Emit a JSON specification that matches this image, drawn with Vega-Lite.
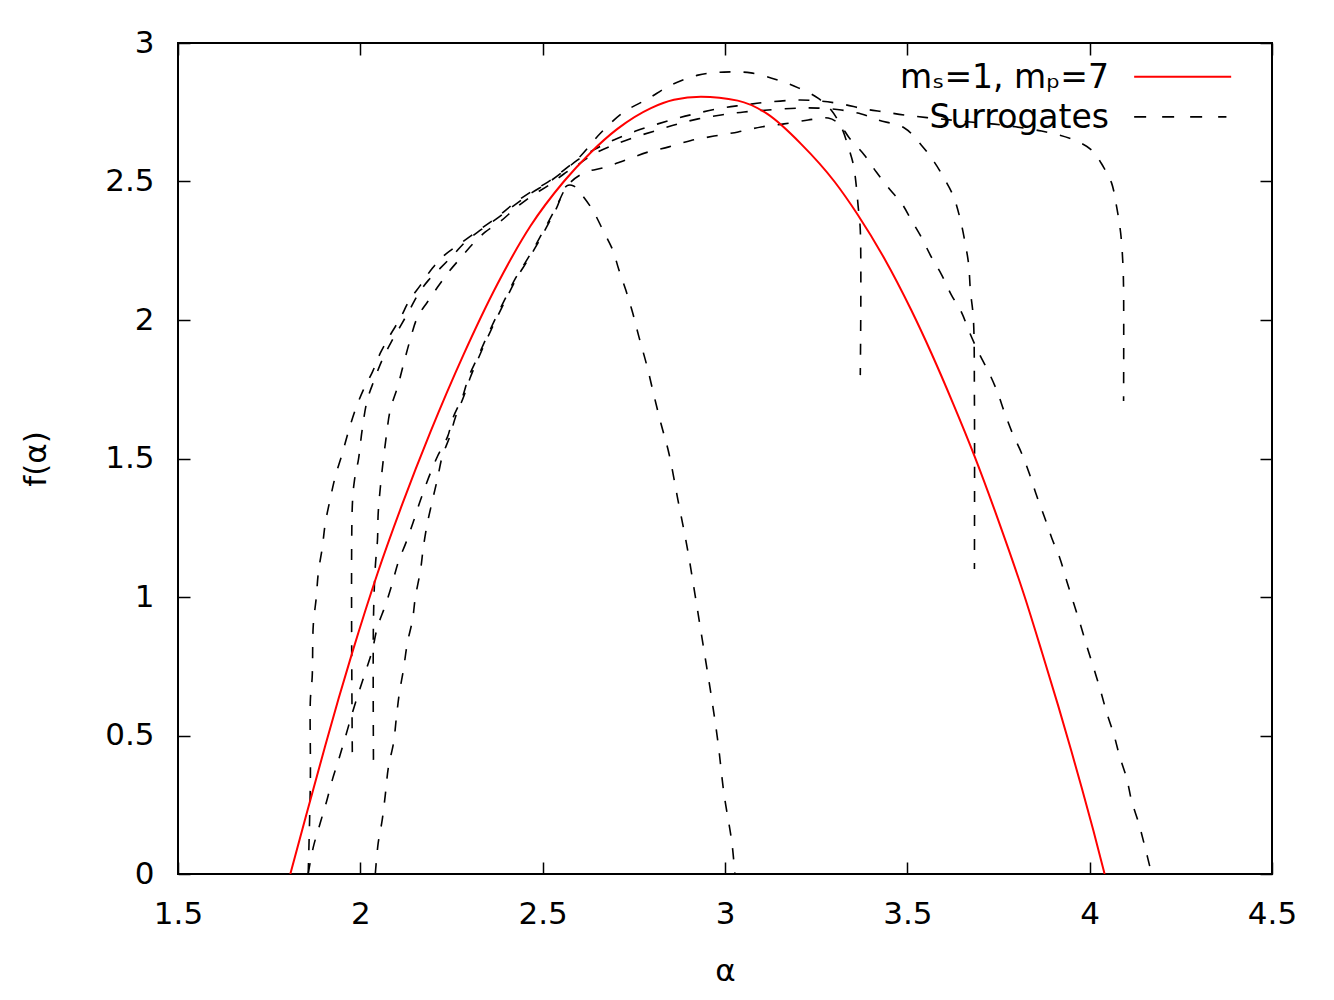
{
  "$schema": "https://vega.github.io/schema/vega-lite/v6.json",
  "width": 1094,
  "height": 831,
  "autosize": "none",
  "padding": {"left": 178, "top": 43, "right": 62, "bottom": 126},
  "background": "white",
  "config": {
    "view": {"stroke": "black", "strokeWidth": 2},
    "font": "DejaVu Sans",
    "axis": {"labelFont": "DejaVu Sans", "titleFont": "DejaVu Sans", "labelColor": "black", "titleColor": "black", "titleFontWeight": "normal", "grid": false, "domain": false, "tickColor": "black", "tickWidth": 1.5}
  },
  "datasets": {
    "curves": [
      {"s":"main","i":0,"a":1.808,"f":0},{"s":"main","i":1,"a":1.85,"f":0.205},{"s":"main","i":2,"a":1.9,"f":0.445},{"s":"main","i":3,"a":1.94,"f":0.632},{"s":"main","i":4,"a":1.978,"f":0.8},{"s":"main","i":5,"a":2.047,"f":1.085},{"s":"main","i":6,"a":2.115,"f":1.335},{"s":"main","i":7,"a":2.192,"f":1.595},{"s":"main","i":8,"a":2.283,"f":1.875},{"s":"main","i":9,"a":2.376,"f":2.13},{"s":"main","i":10,"a":2.467,"f":2.34},{"s":"main","i":11,"a":2.558,"f":2.5},{"s":"main","i":12,"a":2.632,"f":2.605},{"s":"main","i":13,"a":2.705,"f":2.69},{"s":"main","i":14,"a":2.797,"f":2.765},{"s":"main","i":15,"a":2.86,"f":2.795},{"s":"main","i":16,"a":2.934,"f":2.806},{"s":"main","i":17,"a":3.035,"f":2.792},{"s":"main","i":18,"a":3.117,"f":2.743},{"s":"main","i":19,"a":3.209,"f":2.635},{"s":"main","i":20,"a":3.3,"f":2.5},{"s":"main","i":21,"a":3.364,"f":2.38},{"s":"main","i":22,"a":3.437,"f":2.222},{"s":"main","i":23,"a":3.511,"f":2.035},{"s":"main","i":24,"a":3.566,"f":1.88},{"s":"main","i":25,"a":3.625,"f":1.7},{"s":"main","i":26,"a":3.685,"f":1.506},{"s":"main","i":27,"a":3.75,"f":1.275},{"s":"main","i":28,"a":3.822,"f":1.0},{"s":"main","i":29,"a":3.87,"f":0.797},{"s":"main","i":30,"a":3.914,"f":0.606},{"s":"main","i":31,"a":3.95,"f":0.443},{"s":"main","i":32,"a":3.978,"f":0.312},{"s":"main","i":33,"a":4.01,"f":0.158},{"s":"main","i":34,"a":4.041,"f":0},

      {"s":"s1","i":0,"a":1.857,"f":0},{"s":"s1","i":1,"a":1.863,"f":0.339},{"s":"s1","i":2,"a":1.863,"f":0.628},{"s":"s1","i":3,"a":1.868,"f":0.711},{"s":"s1","i":4,"a":1.871,"f":0.899},{"s":"s1","i":5,"a":1.879,"f":0.996},{"s":"s1","i":6,"a":1.885,"f":1.09},{"s":"s1","i":7,"a":1.896,"f":1.181},{"s":"s1","i":8,"a":1.904,"f":1.267},{"s":"s1","i":9,"a":1.918,"f":1.357},{"s":"s1","i":10,"a":1.931,"f":1.433},{"s":"s1","i":11,"a":1.951,"f":1.52},{"s":"s1","i":12,"a":1.967,"f":1.596},{"s":"s1","i":13,"a":1.986,"f":1.675},{"s":"s1","i":14,"a":2.008,"f":1.747},{"s":"s1","i":15,"a":2.033,"f":1.812},{"s":"s1","i":16,"a":2.055,"f":1.881},{"s":"s1","i":17,"a":2.082,"f":1.946},{"s":"s1","i":18,"a":2.11,"f":2.007},{"s":"s1","i":19,"a":2.132,"f":2.065},{"s":"s1","i":20,"a":2.165,"f":2.126},{"s":"s1","i":21,"a":2.198,"f":2.188},{"s":"s1","i":22,"a":2.228,"f":2.231},{"s":"s1","i":23,"a":2.28,"f":2.282},{"s":"s1","i":24,"a":2.33,"f":2.329},{"s":"s1","i":25,"a":2.376,"f":2.372},{"s":"s1","i":26,"a":2.42,"f":2.419},{"s":"s1","i":27,"a":2.467,"f":2.462},{"s":"s1","i":28,"a":2.514,"f":2.498},{"s":"s1","i":29,"a":2.566,"f":2.549},{"s":"s1","i":30,"a":2.604,"f":2.592},{"s":"s1","i":31,"a":2.659,"f":2.675},{"s":"s1","i":32,"a":2.723,"f":2.751},{"s":"s1","i":33,"a":2.788,"f":2.798},{"s":"s1","i":34,"a":2.852,"f":2.848},{"s":"s1","i":35,"a":2.926,"f":2.884},{"s":"s1","i":36,"a":2.997,"f":2.895},{"s":"s1","i":37,"a":3.071,"f":2.892},{"s":"s1","i":38,"a":3.146,"f":2.866},{"s":"s1","i":39,"a":3.201,"f":2.838},{"s":"s1","i":40,"a":3.255,"f":2.801},{"s":"s1","i":41,"a":3.291,"f":2.758},{"s":"s1","i":42,"a":3.319,"f":2.697},{"s":"s1","i":43,"a":3.338,"f":2.625},{"s":"s1","i":44,"a":3.352,"f":2.561},{"s":"s1","i":45,"a":3.36,"f":2.484},{"s":"s1","i":46,"a":3.365,"f":2.412},{"s":"s1","i":47,"a":3.371,"f":2.325},{"s":"s1","i":48,"a":3.371,"f":1.801},

      {"s":"s2","i":0,"a":1.978,"f":0.44},{"s":"s2","i":1,"a":1.978,"f":1.329},{"s":"s2","i":2,"a":1.984,"f":1.422},{"s":"s2","i":3,"a":1.995,"f":1.498},{"s":"s2","i":4,"a":2.005,"f":1.603},{"s":"s2","i":5,"a":2.019,"f":1.711},{"s":"s2","i":6,"a":2.038,"f":1.783},{"s":"s2","i":7,"a":2.06,"f":1.856},{"s":"s2","i":8,"a":2.085,"f":1.921},{"s":"s2","i":9,"a":2.11,"f":1.978},{"s":"s2","i":10,"a":2.135,"f":2.036},{"s":"s2","i":11,"a":2.159,"f":2.094},{"s":"s2","i":12,"a":2.187,"f":2.144},{"s":"s2","i":13,"a":2.22,"f":2.188},{"s":"s2","i":14,"a":2.255,"f":2.235},{"s":"s2","i":15,"a":2.288,"f":2.282},{"s":"s2","i":16,"a":2.33,"f":2.325},{"s":"s2","i":17,"a":2.376,"f":2.368},{"s":"s2","i":18,"a":2.42,"f":2.412},{"s":"s2","i":19,"a":2.467,"f":2.457},{"s":"s2","i":20,"a":2.514,"f":2.495},{"s":"s2","i":21,"a":2.558,"f":2.538},{"s":"s2","i":22,"a":2.596,"f":2.578},{"s":"s2","i":23,"a":2.64,"f":2.614},{"s":"s2","i":24,"a":2.695,"f":2.65},{"s":"s2","i":25,"a":2.755,"f":2.682},{"s":"s2","i":26,"a":2.816,"f":2.708},{"s":"s2","i":27,"a":2.871,"f":2.729},{"s":"s2","i":28,"a":2.926,"f":2.747},{"s":"s2","i":29,"a":2.989,"f":2.765},{"s":"s2","i":30,"a":3.052,"f":2.776},{"s":"s2","i":31,"a":3.118,"f":2.787},{"s":"s2","i":32,"a":3.201,"f":2.794},{"s":"s2","i":33,"a":3.255,"f":2.791},{"s":"s2","i":34,"a":3.319,"f":2.78},{"s":"s2","i":35,"a":3.382,"f":2.762},{"s":"s2","i":36,"a":3.437,"f":2.751},{"s":"s2","i":37,"a":3.492,"f":2.74},{"s":"s2","i":38,"a":3.566,"f":2.729},{"s":"s2","i":39,"a":3.648,"f":2.718},{"s":"s2","i":40,"a":3.758,"f":2.704},{"s":"s2","i":41,"a":3.868,"f":2.682},{"s":"s2","i":42,"a":3.951,"f":2.653},{"s":"s2","i":43,"a":4.005,"f":2.614},{"s":"s2","i":44,"a":4.038,"f":2.552},{"s":"s2","i":45,"a":4.06,"f":2.495},{"s":"s2","i":46,"a":4.074,"f":2.408},{"s":"s2","i":47,"a":4.085,"f":2.314},{"s":"s2","i":48,"a":4.091,"f":2.206},{"s":"s2","i":49,"a":4.093,"f":2.108},{"s":"s2","i":50,"a":4.093,"f":1.708},

      {"s":"s3","i":0,"a":2.036,"f":0.412},{"s":"s3","i":1,"a":2.036,"f":0.917},{"s":"s3","i":2,"a":2.041,"f":1.108},{"s":"s3","i":3,"a":2.047,"f":1.206},{"s":"s3","i":4,"a":2.049,"f":1.303},{"s":"s3","i":5,"a":2.055,"f":1.397},{"s":"s3","i":6,"a":2.063,"f":1.495},{"s":"s3","i":7,"a":2.071,"f":1.578},{"s":"s3","i":8,"a":2.082,"f":1.675},{"s":"s3","i":9,"a":2.102,"f":1.758},{"s":"s3","i":10,"a":2.118,"f":1.838},{"s":"s3","i":11,"a":2.135,"f":1.921},{"s":"s3","i":12,"a":2.157,"f":2.011},{"s":"s3","i":13,"a":2.184,"f":2.065},{"s":"s3","i":14,"a":2.212,"f":2.119},{"s":"s3","i":15,"a":2.242,"f":2.173},{"s":"s3","i":16,"a":2.275,"f":2.224},{"s":"s3","i":17,"a":2.308,"f":2.274},{"s":"s3","i":18,"a":2.343,"f":2.318},{"s":"s3","i":19,"a":2.385,"f":2.357},{"s":"s3","i":20,"a":2.426,"f":2.404},{"s":"s3","i":21,"a":2.47,"f":2.448},{"s":"s3","i":22,"a":2.514,"f":2.484},{"s":"s3","i":23,"a":2.558,"f":2.527},{"s":"s3","i":24,"a":2.599,"f":2.563},{"s":"s3","i":25,"a":2.64,"f":2.599},{"s":"s3","i":26,"a":2.695,"f":2.632},{"s":"s3","i":27,"a":2.755,"f":2.661},{"s":"s3","i":28,"a":2.816,"f":2.686},{"s":"s3","i":29,"a":2.871,"f":2.708},{"s":"s3","i":30,"a":2.926,"f":2.726},{"s":"s3","i":31,"a":2.989,"f":2.74},{"s":"s3","i":32,"a":3.052,"f":2.751},{"s":"s3","i":33,"a":3.118,"f":2.758},{"s":"s3","i":34,"a":3.201,"f":2.765},{"s":"s3","i":35,"a":3.255,"f":2.765},{"s":"s3","i":36,"a":3.319,"f":2.758},{"s":"s3","i":37,"a":3.374,"f":2.744},{"s":"s3","i":38,"a":3.42,"f":2.722},{"s":"s3","i":39,"a":3.492,"f":2.693},{"s":"s3","i":40,"a":3.538,"f":2.632},{"s":"s3","i":41,"a":3.574,"f":2.57},{"s":"s3","i":42,"a":3.602,"f":2.509},{"s":"s3","i":43,"a":3.626,"f":2.448},{"s":"s3","i":44,"a":3.643,"f":2.375},{"s":"s3","i":45,"a":3.657,"f":2.289},{"s":"s3","i":46,"a":3.668,"f":2.202},{"s":"s3","i":47,"a":3.673,"f":2.105},{"s":"s3","i":48,"a":3.681,"f":2.007},{"s":"s3","i":49,"a":3.684,"f":1.711},{"s":"s3","i":50,"a":3.684,"f":1.101},

      {"s":"s4","i":0,"a":1.857,"f":0},{"s":"s4","i":1,"a":1.871,"f":0.097},{"s":"s4","i":2,"a":1.89,"f":0.184},{"s":"s4","i":3,"a":1.907,"f":0.26},{"s":"s4","i":4,"a":1.923,"f":0.339},{"s":"s4","i":5,"a":1.942,"f":0.419},{"s":"s4","i":6,"a":1.959,"f":0.495},{"s":"s4","i":7,"a":1.978,"f":0.581},{"s":"s4","i":8,"a":1.995,"f":0.653},{"s":"s4","i":9,"a":2.014,"f":0.729},{"s":"s4","i":10,"a":2.033,"f":0.809},{"s":"s4","i":11,"a":2.047,"f":0.892},{"s":"s4","i":12,"a":2.069,"f":0.971},{"s":"s4","i":13,"a":2.088,"f":1.051},{"s":"s4","i":14,"a":2.104,"f":1.126},{"s":"s4","i":15,"a":2.126,"f":1.199},{"s":"s4","i":16,"a":2.146,"f":1.274},{"s":"s4","i":17,"a":2.165,"f":1.35},{"s":"s4","i":18,"a":2.187,"f":1.43},{"s":"s4","i":19,"a":2.212,"f":1.509},{"s":"s4","i":20,"a":2.239,"f":1.578},{"s":"s4","i":21,"a":2.255,"f":1.65},{"s":"s4","i":22,"a":2.28,"f":1.722},{"s":"s4","i":23,"a":2.297,"f":1.794},{"s":"s4","i":24,"a":2.321,"f":1.863},{"s":"s4","i":25,"a":2.343,"f":1.928},{"s":"s4","i":26,"a":2.371,"f":2.007},{"s":"s4","i":27,"a":2.398,"f":2.079},{"s":"s4","i":28,"a":2.426,"f":2.152},{"s":"s4","i":29,"a":2.453,"f":2.209},{"s":"s4","i":30,"a":2.481,"f":2.271},{"s":"s4","i":31,"a":2.508,"f":2.336},{"s":"s4","i":32,"a":2.536,"f":2.404},{"s":"s4","i":33,"a":2.569,"f":2.487},{"s":"s4","i":34,"a":2.613,"f":2.531},{"s":"s4","i":35,"a":2.673,"f":2.552},{"s":"s4","i":36,"a":2.728,"f":2.578},{"s":"s4","i":37,"a":2.788,"f":2.606},{"s":"s4","i":38,"a":2.846,"f":2.625},{"s":"s4","i":39,"a":2.907,"f":2.648},{"s":"s4","i":40,"a":2.97,"f":2.664},{"s":"s4","i":41,"a":3.036,"f":2.679},{"s":"s4","i":42,"a":3.099,"f":2.697},{"s":"s4","i":43,"a":3.162,"f":2.708},{"s":"s4","i":44,"a":3.228,"f":2.722},{"s":"s4","i":45,"a":3.283,"f":2.729},{"s":"s4","i":46,"a":3.313,"f":2.708},{"s":"s4","i":47,"a":3.341,"f":2.657},{"s":"s4","i":48,"a":3.382,"f":2.596},{"s":"s4","i":49,"a":3.415,"f":2.534},{"s":"s4","i":50,"a":3.451,"f":2.473},{"s":"s4","i":51,"a":3.484,"f":2.422},{"s":"s4","i":52,"a":3.511,"f":2.361},{"s":"s4","i":53,"a":3.538,"f":2.3},{"s":"s4","i":54,"a":3.566,"f":2.227},{"s":"s4","i":55,"a":3.593,"f":2.166},{"s":"s4","i":56,"a":3.621,"f":2.09},{"s":"s4","i":57,"a":3.648,"f":2.029},{"s":"s4","i":58,"a":3.67,"f":1.957},{"s":"s4","i":59,"a":3.695,"f":1.884},{"s":"s4","i":60,"a":3.723,"f":1.812},{"s":"s4","i":61,"a":3.747,"f":1.74},{"s":"s4","i":62,"a":3.766,"f":1.668},{"s":"s4","i":63,"a":3.788,"f":1.592},{"s":"s4","i":64,"a":3.813,"f":1.52},{"s":"s4","i":65,"a":3.835,"f":1.444},{"s":"s4","i":66,"a":3.854,"f":1.368},{"s":"s4","i":67,"a":3.876,"f":1.289},{"s":"s4","i":68,"a":3.896,"f":1.213},{"s":"s4","i":69,"a":3.918,"f":1.141},{"s":"s4","i":70,"a":3.937,"f":1.058},{"s":"s4","i":71,"a":3.956,"f":0.978},{"s":"s4","i":72,"a":3.975,"f":0.899},{"s":"s4","i":73,"a":3.992,"f":0.823},{"s":"s4","i":74,"a":4.011,"f":0.744},{"s":"s4","i":75,"a":4.03,"f":0.661},{"s":"s4","i":76,"a":4.047,"f":0.581},{"s":"s4","i":77,"a":4.066,"f":0.505},{"s":"s4","i":78,"a":4.082,"f":0.426},{"s":"s4","i":79,"a":4.102,"f":0.343},{"s":"s4","i":80,"a":4.115,"f":0.264},{"s":"s4","i":81,"a":4.135,"f":0.181},{"s":"s4","i":82,"a":4.151,"f":0.101},{"s":"s4","i":83,"a":4.17,"f":0},

      {"s":"s5","i":0,"a":2.041,"f":0},{"s":"s5","i":1,"a":2.049,"f":0.112},{"s":"s5","i":2,"a":2.06,"f":0.195},{"s":"s5","i":3,"a":2.069,"f":0.292},{"s":"s5","i":4,"a":2.077,"f":0.386},{"s":"s5","i":5,"a":2.091,"f":0.473},{"s":"s5","i":6,"a":2.099,"f":0.567},{"s":"s5","i":7,"a":2.107,"f":0.653},{"s":"s5","i":8,"a":2.118,"f":0.736},{"s":"s5","i":9,"a":2.129,"f":0.834},{"s":"s5","i":10,"a":2.143,"f":0.917},{"s":"s5","i":11,"a":2.151,"f":1.0},{"s":"s5","i":12,"a":2.165,"f":1.097},{"s":"s5","i":13,"a":2.173,"f":1.181},{"s":"s5","i":14,"a":2.184,"f":1.267},{"s":"s5","i":15,"a":2.198,"f":1.35},{"s":"s5","i":16,"a":2.212,"f":1.43},{"s":"s5","i":17,"a":2.225,"f":1.509},{"s":"s5","i":18,"a":2.245,"f":1.578},{"s":"s5","i":19,"a":2.261,"f":1.65},{"s":"s5","i":20,"a":2.283,"f":1.722},{"s":"s5","i":21,"a":2.302,"f":1.794},{"s":"s5","i":22,"a":2.324,"f":1.863},{"s":"s5","i":23,"a":2.346,"f":1.928},{"s":"s5","i":24,"a":2.374,"f":2.007},{"s":"s5","i":25,"a":2.401,"f":2.079},{"s":"s5","i":26,"a":2.429,"f":2.152},{"s":"s5","i":27,"a":2.456,"f":2.209},{"s":"s5","i":28,"a":2.484,"f":2.271},{"s":"s5","i":29,"a":2.511,"f":2.336},{"s":"s5","i":30,"a":2.538,"f":2.404},{"s":"s5","i":31,"a":2.566,"f":2.484},{"s":"s5","i":32,"a":2.585,"f":2.484},{"s":"s5","i":33,"a":2.604,"f":2.458},{"s":"s5","i":34,"a":2.637,"f":2.397},{"s":"s5","i":35,"a":2.665,"f":2.325},{"s":"s5","i":36,"a":2.692,"f":2.253},{"s":"s5","i":37,"a":2.709,"f":2.181},{"s":"s5","i":38,"a":2.728,"f":2.108},{"s":"s5","i":39,"a":2.747,"f":2.025},{"s":"s5","i":40,"a":2.764,"f":1.939},{"s":"s5","i":41,"a":2.786,"f":1.834},{"s":"s5","i":42,"a":2.805,"f":1.729},{"s":"s5","i":43,"a":2.824,"f":1.628},{"s":"s5","i":44,"a":2.846,"f":1.52},{"s":"s5","i":45,"a":2.871,"f":1.35},{"s":"s5","i":46,"a":2.896,"f":1.181},{"s":"s5","i":47,"a":2.918,"f":1.007},{"s":"s5","i":48,"a":2.94,"f":0.827},{"s":"s5","i":49,"a":2.962,"f":0.646},{"s":"s5","i":50,"a":2.981,"f":0.473},{"s":"s5","i":51,"a":2.997,"f":0.292},{"s":"s5","i":52,"a":3.019,"f":0.112},{"s":"s5","i":53,"a":3.027,"f":0}
    ]
  },
  "data": {"name": "curves"},
  "layer": [
    {
      "transform": [{"filter": "datum.s != 'main'"}],
      "mark": {"type": "line", "color": "black", "strokeWidth": 1.6, "strokeDash": [11, 13], "interpolate": "catmull-rom", "clip": true},
      "encoding": {
        "x": {"field": "a", "type": "quantitative", "scale": {"domain": [1.5, 4.5], "nice": false, "zero": false},
              "axis": {"orient": "bottom", "values": [1.5, 2, 2.5, 3, 3.5, 4, 4.5], "format": "~g", "tickSize": -12, "labelFontSize": 31, "labelPadding": 37, "labelFlush": false, "title": "α", "titleFontSize": 31, "titlePadding": 27}},
        "y": {"field": "f", "type": "quantitative", "scale": {"domain": [0, 3], "nice": false, "zero": false},
              "axis": {"orient": "left", "values": [0, 0.5, 1, 1.5, 2, 2.5, 3], "format": "~g", "tickSize": -12, "labelFontSize": 31, "labelPadding": 36, "labelFlush": false, "title": "f(α)", "titleFontSize": 31, "titlePadding": 52}},
        "detail": {"field": "s"},
        "order": {"field": "i", "type": "quantitative"}
      }
    },
    {
      "transform": [{"filter": "datum.s == 'main'"}],
      "mark": {"type": "line", "color": "#ff0000", "strokeWidth": 2, "interpolate": "monotone", "clip": true},
      "encoding": {
        "x": {"field": "a", "type": "quantitative",
              "axis": {"orient": "top", "values": [1.5, 2, 2.5, 3, 3.5, 4, 4.5], "tickSize": -12, "labels": false, "title": null}},
        "y": {"field": "f", "type": "quantitative",
              "axis": {"orient": "right", "values": [0, 0.5, 1, 1.5, 2, 2.5, 3], "tickSize": -12, "labels": false, "title": null}},
        "order": {"field": "i", "type": "quantitative"}
      }
    },
    {
      "data": {"values": [{}]},
      "mark": {"type": "text", "align": "right", "baseline": "middle", "fontSize": 33, "font": "DejaVu Sans", "color": "black"},
      "encoding": {
        "x": {"datum": 4.053, "type": "quantitative", "axis": null},
        "y": {"datum": 2.874, "type": "quantitative", "axis": null},
        "text": {"value": "mₛ=1, mₚ=7"}
      }
    },
    {
      "data": {"values": [{}]},
      "mark": {"type": "text", "align": "right", "baseline": "middle", "fontSize": 33, "font": "DejaVu Sans", "color": "black"},
      "encoding": {
        "x": {"datum": 4.053, "type": "quantitative", "axis": null},
        "y": {"datum": 2.729, "type": "quantitative", "axis": null},
        "text": {"value": "Surrogates"}
      }
    },
    {
      "data": {"values": [{}]},
      "mark": {"type": "rule", "color": "#ff0000", "strokeWidth": 2},
      "encoding": {
        "x": {"datum": 4.122, "type": "quantitative", "axis": null},
        "x2": {"datum": 4.388},
        "y": {"datum": 2.878, "type": "quantitative", "axis": null}
      }
    },
    {
      "data": {"values": [{}]},
      "mark": {"type": "rule", "color": "black", "strokeWidth": 1.8, "strokeDash": [12, 16]},
      "encoding": {
        "x": {"datum": 4.122, "type": "quantitative", "axis": null},
        "x2": {"datum": 4.375},
        "y": {"datum": 2.733, "type": "quantitative", "axis": null}
      }
    }
  ],
  "resolve": {"axis": {"x": "independent", "y": "independent"}}
}
